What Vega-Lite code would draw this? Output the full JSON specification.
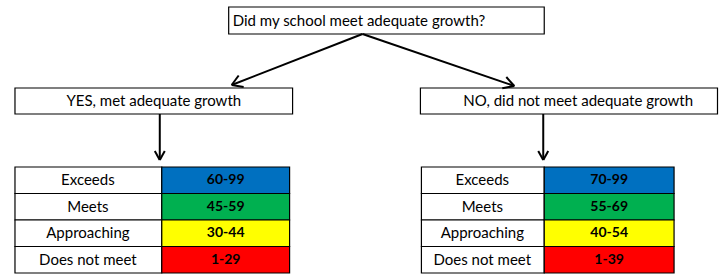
{
  "$schema": "https://vega.github.io/schema/vega-lite/v6.json",
  "width": 719,
  "height": 275,
  "autosize": {"type": "fit", "contains": "padding"},
  "padding": 0,
  "background": "#ffffff",
  "config": {"view": {"stroke": null}},
  "datasets": {
    "boxes": [
      {"x1": 229, "x2": 545, "y1": 7, "y2": 34, "band": "none"},
      {"x1": 15, "x2": 293, "y1": 88, "y2": 114, "band": "none"},
      {"x1": 421, "x2": 718.5, "y1": 88, "y2": 114, "band": "none"},
      {"x1": 15, "x2": 162, "y1": 167, "y2": 193.5, "band": "none"},
      {"x1": 15, "x2": 162, "y1": 193.5, "y2": 220, "band": "none"},
      {"x1": 15, "x2": 162, "y1": 220, "y2": 246.5, "band": "none"},
      {"x1": 15, "x2": 162, "y1": 246.5, "y2": 273, "band": "none"},
      {"x1": 162, "x2": 290, "y1": 167, "y2": 193.5, "band": "Exceeds"},
      {"x1": 162, "x2": 290, "y1": 193.5, "y2": 220, "band": "Meets"},
      {"x1": 162, "x2": 290, "y1": 220, "y2": 246.5, "band": "Approaching"},
      {"x1": 162, "x2": 290, "y1": 246.5, "y2": 273, "band": "Does not meet"},
      {"x1": 422, "x2": 545, "y1": 167, "y2": 193.5, "band": "none"},
      {"x1": 422, "x2": 545, "y1": 193.5, "y2": 220, "band": "none"},
      {"x1": 422, "x2": 545, "y1": 220, "y2": 246.5, "band": "none"},
      {"x1": 422, "x2": 545, "y1": 246.5, "y2": 273, "band": "none"},
      {"x1": 545, "x2": 675, "y1": 167, "y2": 193.5, "band": "Exceeds"},
      {"x1": 545, "x2": 675, "y1": 193.5, "y2": 220, "band": "Meets"},
      {"x1": 545, "x2": 675, "y1": 220, "y2": 246.5, "band": "Approaching"},
      {"x1": 545, "x2": 675, "y1": 246.5, "y2": 273, "band": "Does not meet"}
    ],
    "segments": [
      {"x1": 363, "y1": 34, "x2": 232, "y2": 85},
      {"x1": 232, "y1": 85, "x2": 244, "y2": 87},
      {"x1": 232, "y1": 85, "x2": 239, "y2": 75.5},
      {"x1": 363, "y1": 34, "x2": 515, "y2": 86},
      {"x1": 515, "y1": 86, "x2": 507, "y2": 77},
      {"x1": 515, "y1": 86, "x2": 503, "y2": 88.3},
      {"x1": 160, "y1": 114, "x2": 160, "y2": 160},
      {"x1": 160, "y1": 160, "x2": 155, "y2": 151},
      {"x1": 160, "y1": 160, "x2": 165, "y2": 151},
      {"x1": 544, "y1": 114, "x2": 544, "y2": 160},
      {"x1": 544, "y1": 160, "x2": 539, "y2": 151},
      {"x1": 544, "y1": 160, "x2": 549, "y2": 151}
    ],
    "texts": [
      {"label": "Did my school meet adequate growth?", "x": 233, "y": 21, "kind": "left"},
      {"label": "YES, met adequate growth", "x": 154, "y": 101, "kind": "plain"},
      {"label": "NO, did not meet adequate growth", "x": 579, "y": 101, "kind": "plain"},
      {"label": "Exceeds", "x": 88, "y": 180, "kind": "plain"},
      {"label": "Meets", "x": 88, "y": 207, "kind": "plain"},
      {"label": "Approaching", "x": 88, "y": 233, "kind": "plain"},
      {"label": "Does not meet", "x": 88, "y": 260, "kind": "plain"},
      {"label": "60-99", "x": 226, "y": 180, "kind": "bold"},
      {"label": "45-59", "x": 226, "y": 207, "kind": "bold"},
      {"label": "30-44", "x": 226, "y": 233, "kind": "bold"},
      {"label": "1-29", "x": 226, "y": 260, "kind": "bold"},
      {"label": "Exceeds", "x": 483, "y": 180, "kind": "plain"},
      {"label": "Meets", "x": 483, "y": 207, "kind": "plain"},
      {"label": "Approaching", "x": 483, "y": 233, "kind": "plain"},
      {"label": "Does not meet", "x": 483, "y": 260, "kind": "plain"},
      {"label": "70-99", "x": 610, "y": 180, "kind": "bold"},
      {"label": "55-69", "x": 610, "y": 207, "kind": "bold"},
      {"label": "40-54", "x": 610, "y": 233, "kind": "bold"},
      {"label": "1-39", "x": 610, "y": 260, "kind": "bold"}
    ]
  },
  "layer": [
    {
      "data": {"name": "boxes"},
      "mark": {"type": "rect", "stroke": "#000000", "strokeWidth": 1.2},
      "encoding": {
        "x": {"field": "x1", "type": "quantitative", "scale": {"domain": [0, 719], "nice": false, "zero": false}, "axis": null},
        "x2": {"field": "x2"},
        "y": {"field": "y1", "type": "quantitative", "scale": {"domain": [0, 275], "nice": false, "zero": false, "reverse": true}, "axis": null},
        "y2": {"field": "y2"},
        "fill": {"field": "band", "type": "nominal", "legend": null,
          "scale": {"domain": ["none", "Exceeds", "Meets", "Approaching", "Does not meet"],
                    "range": ["#ffffff", "#0070C0", "#00B050", "#FFFF00", "#FF0000"]}}
      }
    },
    {
      "data": {"name": "segments"},
      "mark": {"type": "rule", "color": "#000000", "strokeWidth": 2},
      "encoding": {
        "x": {"field": "x1", "type": "quantitative"},
        "x2": {"field": "x2"},
        "y": {"field": "y1", "type": "quantitative"},
        "y2": {"field": "y2"}
      }
    },
    {
      "data": {"name": "texts"},
      "transform": [{"filter": "datum.kind === 'left'"}],
      "mark": {"type": "text", "align": "left", "baseline": "middle", "font": "Lato", "fontSize": 15, "color": "#000000"},
      "encoding": {
        "x": {"field": "x", "type": "quantitative"},
        "y": {"field": "y", "type": "quantitative"},
        "text": {"field": "label"}
      }
    },
    {
      "data": {"name": "texts"},
      "transform": [{"filter": "datum.kind === 'plain'"}],
      "mark": {"type": "text", "align": "center", "baseline": "middle", "font": "Lato", "fontSize": 15, "color": "#000000"},
      "encoding": {
        "x": {"field": "x", "type": "quantitative"},
        "y": {"field": "y", "type": "quantitative"},
        "text": {"field": "label"}
      }
    },
    {
      "data": {"name": "texts"},
      "transform": [{"filter": "datum.kind === 'bold'"}],
      "mark": {"type": "text", "align": "center", "baseline": "middle", "font": "Lato", "fontSize": 14, "fontWeight": "bold", "color": "#000000"},
      "encoding": {
        "x": {"field": "x", "type": "quantitative"},
        "y": {"field": "y", "type": "quantitative"},
        "text": {"field": "label"}
      }
    }
  ]
}
